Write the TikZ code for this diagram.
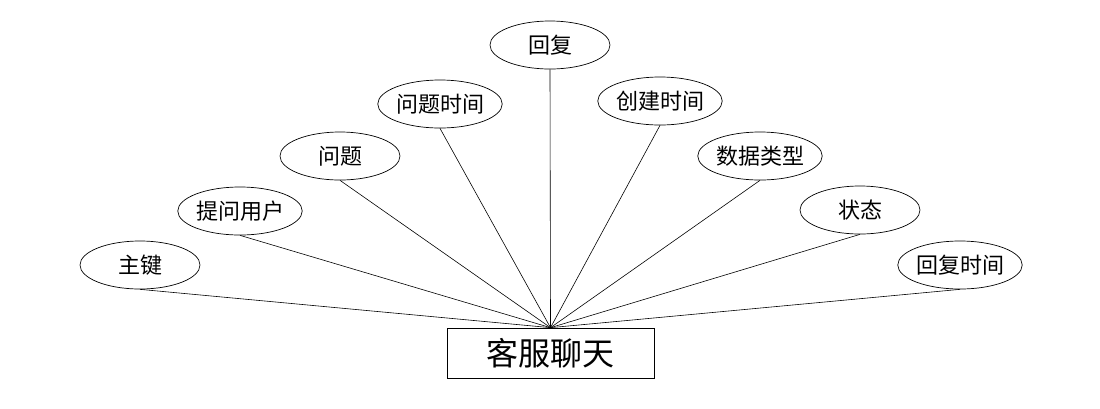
\documentclass[tikz,border=0pt]{standalone}
\usepackage{fontspec}
\newfontfamily\cjk{Noto Sans CJK SC}
\usetikzlibrary{shapes.geometric}

\begin{document}
\begin{tikzpicture}[x=1bp, y=-1bp,
  attr/.style={draw, ellipse, line width=0.7pt, minimum width=120bp, minimum height=48bp, inner sep=0pt,
    font=\cjk\fontsize{22bp}{26bp}\selectfont},
  entity/.style={draw, rectangle, line width=0.7pt, minimum width=207bp, minimum height=50bp, inner sep=0pt,
    font=\cjk\fontsize{32bp}{38bp}\selectfont},
  link/.style={line width=0.6pt}]

\useasboundingbox (0,0) rectangle (1100,408);

% =============================================
% ENTIDAD
% =============================================
\node[entity] (chat) at (550.5,353) {客服聊天};

% =============================================
% ATRIBUTOS (izquierda)
% =============================================
\node[attr] (pk)     at (140,265) {主键};
\node[attr] (asker)  at (240,211) {提问用户};
\node[attr] (quest)  at (340,156) {问题};
\node[attr] (qtime)  at (440,104) {问题时间};

% Atributo central
\node[attr] (reply)  at (550,45) {回复};

% =============================================
% ATRIBUTOS (derecha)
% =============================================
\node[attr] (ctime)  at (660,101) {创建时间};
\node[attr] (dtype)  at (760,156) {数据类型};
\node[attr] (state)  at (860,210) {状态};
\node[attr] (rtime)  at (960,265) {回复时间};

% Conectores hacia la entidad
\draw[link] (pk.south)    -- (chat.north);
\draw[link] (asker.south) -- (chat.north);
\draw[link] (quest.south) -- (chat.north);
\draw[link] (qtime.south) -- (chat.north);
\draw[link] (reply.south) -- (chat.north);
\draw[link] (ctime.south) -- (chat.north);
\draw[link] (dtype.south) -- (chat.north);
\draw[link] (state.south) -- (chat.north);
\draw[link] (rtime.south) -- (chat.north);

\end{tikzpicture}
\end{document}
